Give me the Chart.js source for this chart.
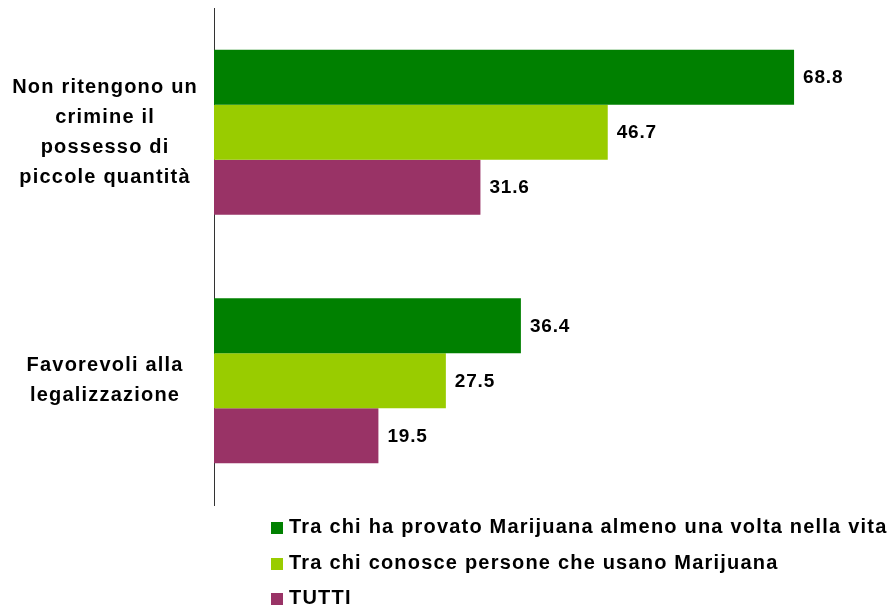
<!DOCTYPE html>
<html>
<head>
<meta charset="utf-8">
<script src="https://cdn.jsdelivr.net/npm/chart.js@4.4.0/dist/chart.umd.min.js"></script>
<style>
    body { margin: 0; background: #fff; font-family: "Liberation Sans", Arial, sans-serif; }
    #wrap { position: absolute; left: 0; top: 0; width: 893px; height: 510px; }
    #legend { position: absolute; left: 271px; top: 509px; }
    .item { height: 35.5px; line-height: 35.5px; font-size: 20px; font-weight: bold; letter-spacing: 1.2px; color: #000; white-space: nowrap; }
    .box { display: inline-block; width: 12px; height: 12px; margin-right: 6px; vertical-align: -1px; }
</style>
</head>
<body>
<div id="wrap"><canvas id="barChart"></canvas></div>
<div id="legend"></div>
<script>
// Categories and series
const categories = [
    ['Non ritengono un', 'crimine il', 'possesso di', 'piccole quantità'],
    ['Favorevoli alla', 'legalizzazione']
];
const seriesNames = [
    'Tra chi ha provato Marijuana almeno una volta nella vita',
    'Tra chi conosce persone che usano Marijuana',
    'TUTTI'
];
const provato = [68.8, 36.4];
const conosce = [46.7, 27.5];
const tutti = [31.6, 19.5];
const colors = ['#008000', '#99CC00', '#993366'];

const FONT = '"Liberation Sans", Arial, sans-serif';

// letter spacing on the canvas to mimic the old rendering
const spacingPlugin = {
    id: 'spacing',
    beforeLayout(chart) { chart.ctx.letterSpacing = '1.2px'; },
    beforeDraw(chart) { chart.ctx.letterSpacing = '1.2px'; }
};

// value at the end of each bar
const valueLabels = {
    id: 'valueLabels',
    afterDatasetsDraw(chart) {
        const ctx = chart.ctx;
        ctx.save();
        ctx.letterSpacing = '0.8px';
        ctx.font = 'bold 19px ' + FONT;
        ctx.fillStyle = '#000';
        ctx.textAlign = 'left';
        ctx.textBaseline = 'middle';
        chart.data.datasets.forEach((ds, i) => {
            chart.getDatasetMeta(i).data.forEach((bar, j) => {
                ctx.fillText(ds.data[j].toFixed(1), bar.x + 9, bar.y + 1);
            });
        });
        ctx.restore();
    }
};

const ctx = document.getElementById('barChart').getContext('2d');
const chart = new Chart(ctx, {
    type: 'bar',
    data: {
        labels: categories,
        datasets: [provato, conosce, tutti].map((d, i) => ({
            label: seriesNames[i],
            data: d,
            backgroundColor: colors[i],
            borderWidth: 0,
            categoryPercentage: 0.664,
            barPercentage: 1
        }))
    },
    options: {
        indexAxis: 'y',
        responsive: true,
        maintainAspectRatio: false,
        animation: false,
        layout: {
            padding: { top: 8, bottom: 5, right: 4.5, left: 0 }
        },
        plugins: {
            legend: { display: false },
            tooltip: { enabled: false }
        },
        scales: {
            x: {
                display: false,
                min: 0,
                max: 80
            },
            y: {
                afterFit: function(scale) {
                    scale.width = 214;
                    scale.paddingTop = 0;
                    scale.paddingBottom = 0;
                },
                grid: { display: false, drawTicks: false },
                border: { display: true, color: '#333', width: 1 },
                ticks: {
                    crossAlign: 'center',
                    padding: 16,
                    color: '#000',
                    font: { family: FONT, size: 20, weight: 'bold', lineHeight: 1.5 }
                }
            }
        }
    },
    plugins: [spacingPlugin, valueLabels]
});

// legend stacked under the chart
const legend = document.getElementById('legend');
seriesNames.forEach((name, i) => {
    const row = document.createElement('div');
    row.className = 'item';
    row.innerHTML = '<span class="box" style="background:' + colors[i] + '"></span>' + name;
    legend.appendChild(row);
});
</script>
</body>
</html>
